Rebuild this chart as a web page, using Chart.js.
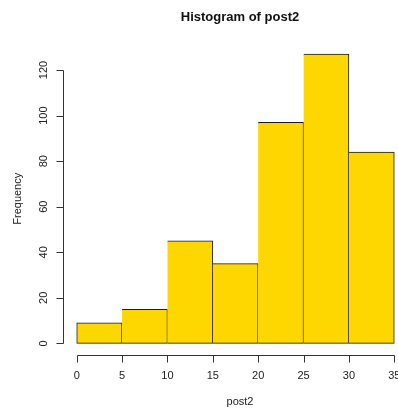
<!DOCTYPE html>
<html>
<head>
<meta charset="utf-8">
<script src="https://cdn.jsdelivr.net/npm/chart.js@4/dist/chart.umd.min.js"></script>
<style>
  html, body { margin: 0; padding: 0; background: #fff; overflow: hidden; width: 398px; height: 409px; }
  #wrap { width: 420px; height: 409px; }
</style>
</head>
<body>
<div id="wrap"><canvas id="c" width="420" height="409"></canvas></div>
<script>
// Histogram data
const binStarts = [0, 5, 10, 15, 20, 25, 30];
const binWidth = 5;
const frequencies = [9, 15, 45, 35, 97, 127, 84];
const xTickLabels = [0, 5, 10, 15, 20, 25, 30, 35];
const yTickLabels = [0, 20, 40, 60, 80, 100, 120];
const titleText = "Histogram of post2";
const xLabel = "post2";
const yLabel = "Frequency";

const binCenters = binStarts.map(s => s + binWidth / 2);
const points = binCenters.map((x, i) => ({ x: x, y: frequencies[i] }));

const xMin = 0, xMax = 35;
const yMax = Math.max(...frequencies);
const xPad = (xMax - xMin) * 0.04;
const yPad = yMax * 0.04;

const rAxes = {
  id: 'rAxes',
  afterDraw(chart) {
    const ctx = chart.ctx;
    const xs = chart.scales.x, ys = chart.scales.y;
    const ca = chart.chartArea;
    const tick = 7;
    ctx.save();
    ctx.strokeStyle = '#333';
    ctx.lineWidth = 1;
    ctx.fillStyle = '#222';
    ctx.font = '11px "Liberation Sans", Arial, sans-serif';

    // y axis
    const ax = Math.round(ca.left) - 0.5;
    const y0 = ys.getPixelForValue(yTickLabels[0]);
    const y1 = ys.getPixelForValue(yTickLabels[yTickLabels.length - 1]);
    ctx.beginPath();
    ctx.moveTo(ax, Math.round(y0) + 0.5);
    ctx.lineTo(ax, Math.round(y1) + 0.5);
    yTickLabels.forEach(v => {
      const py = Math.round(ys.getPixelForValue(v)) + 0.5;
      ctx.moveTo(ax, py);
      ctx.lineTo(ax - tick, py);
    });
    ctx.stroke();
    yTickLabels.forEach(v => {
      const py = ys.getPixelForValue(v);
      ctx.save();
      ctx.translate(44, py);
      ctx.rotate(-Math.PI / 2);
      ctx.textAlign = 'center';
      ctx.textBaseline = 'middle';
      ctx.fillText(String(v), 0, 0);
      ctx.restore();
    });

    // x axis
    const ay = Math.round(ca.bottom) + 0.5;
    const x0 = xs.getPixelForValue(xTickLabels[0]);
    const x1 = xs.getPixelForValue(xTickLabels[xTickLabels.length - 1]);
    ctx.beginPath();
    ctx.moveTo(Math.round(x0) + 0.5, ay);
    ctx.lineTo(Math.round(x1) + 0.5, ay);
    xTickLabels.forEach(v => {
      const px = Math.round(xs.getPixelForValue(v)) + 0.5;
      ctx.moveTo(px, ay);
      ctx.lineTo(px, ay + tick);
    });
    ctx.stroke();
    ctx.textAlign = 'center';
    ctx.textBaseline = 'middle';
    xTickLabels.forEach(v => {
      ctx.fillText(String(v), xs.getPixelForValue(v), 376);
    });

    // axis titles
    ctx.fillText(xLabel, 240, 402);
    ctx.save();
    ctx.translate(18, (ca.top + ca.bottom) / 2);
    ctx.rotate(-Math.PI / 2);
    ctx.fillText(yLabel, 0, 0);
    ctx.restore();

    // main title
    ctx.fillStyle = '#111';
    ctx.font = 'bold 13px "Liberation Sans", Arial, sans-serif';
    ctx.fillText(titleText, 240, 17);
    ctx.restore();
  }
};

new Chart(document.getElementById('c'), {
  type: 'bar',
  data: {
    datasets: [{
      data: points,
      backgroundColor: '#FFD700',
      borderColor: '#1a1a1a',
      borderWidth: 1,
      borderSkipped: (c) => c.dataIndex === 0 ? false : 'left',
      barPercentage: 1.0,
      categoryPercentage: 1.0,
      grouped: false
    }]
  },
  options: {
    responsive: false,
    animation: false,
    devicePixelRatio: 1,
    layout: { padding: { left: 64, right: 13, top: 42.5, bottom: 54 } },
    plugins: { legend: { display: false }, tooltip: { enabled: false }, title: { display: false } },
    scales: {
      x: { type: 'linear', offset: false, min: xMin - xPad, max: xMax + xPad, display: false },
      y: { type: 'linear', min: -yPad, max: yMax + yPad, display: false }
    }
  },
  plugins: [rAxes]
});
</script>
</body>
</html>
